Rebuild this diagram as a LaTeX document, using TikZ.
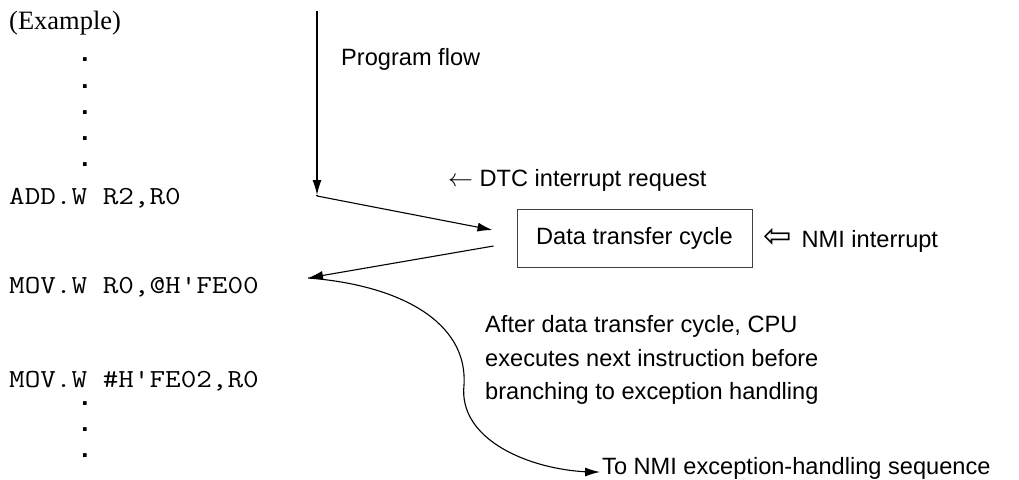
\documentclass[tikz,border=0pt]{standalone}
\usepackage{fontspec}
\setmainfont{Liberation Serif}
\setsansfont{Liberation Sans}
\setmonofont[FakeStretch=1.165]{Latin Modern Mono}
\newfontfamily\dejavuarrows{DejaVu Sans}
\newfontfamily\dotfont{Liberation Mono}
\usetikzlibrary{arrows.meta,calc}
\begin{document}
\begin{tikzpicture}[x=1pt,y=-1pt,
  serif/.style={font=\fontsize{26.5}{30}\selectfont\rmfamily, inner sep=0pt, anchor=base west},
  sans/.style={font=\fontsize{23.6}{33}\selectfont\sffamily, inner sep=0pt, anchor=base west},
  code/.style={font=\fontsize{26}{30}\selectfont\ttfamily, inner sep=0pt, anchor=base west},
  codedot/.style={font=\fontsize{26}{30}\selectfont\dotfont\bfseries, inner sep=0pt, anchor=base},
  conn/.style={line width=1.1pt, -{Latex[length=15pt,width=9pt]}},
  boxst/.style={draw=black!75, line width=1pt, minimum width=235pt, minimum height=58pt, inner sep=0pt,
                font=\fontsize{23.6}{28}\selectfont\sffamily},
  ]
\useasboundingbox (0,0) rectangle (1019,479);

% left column
\node[serif] (example) at (9,29) {(Example)};
\foreach \y [count=\i] in {61,88,114,140,166}
  \node[codedot] (dtop\i) at (85,\y) {.};
\node[code] (add)  at (9,204) {ADD.W R2,R0};
\node[code] (mov1) at (9,293) {MOV.W R0,@H'FE00};
\node[code] (mov2) at (9,387) {MOV.W \#H'FE02,R0};
\foreach \y [count=\i] in {405,431,457}
  \node[codedot] (dbot\i) at (85,\y) {.};

% labels
\node[sans] (flow) at (341,65) {Program flow};
\node[sans] (dtc) at (448,186) {$\leftarrow$ DTC interrupt request};
\node[boxst] (box) at (634.5,238) {Data transfer cycle};
\node[sans] (nmi) at (763,247) {{\fontsize{34}{34}\selectfont\dejavuarrows ⇦}\hspace{10pt}NMI interrupt};
\node[sans] (note1) at (485,332) {After data transfer cycle, CPU};
\node[sans] (note2) at (485,366) {executes next instruction before};
\node[sans] (note3) at (485,399) {branching to exception handling};
\node[sans] (tonmi) at (602,474) {To NMI exception-handling sequence};

% connector points
\coordinate (top) at (317,11);
\coordinate (corner) at (317,195);
\coordinate (in) at ($(box.west)+(-24,-8)$);
\coordinate (out) at ($(box.west)+(-23,8)$);
\coordinate (ret) at (308,278);
\coordinate (bend) at (464,385);
\coordinate (exc) at ($(tonmi.base west)+(-2,-2)$);

% connectors
\draw[conn] (top) -- (corner);
\draw[line width=1.1pt] (corner) -- ++(0,1);
\draw[conn] (317,196) -- (in);
\draw[conn] (out) -- (ret);
\draw[line width=1.1pt] (ret) .. controls (400,285) and (468,322) .. (bend)
  .. controls (458,440) and (530,470) .. (590,472);
\draw[conn] (589,472) -- (exc);
\end{tikzpicture}
\end{document}
